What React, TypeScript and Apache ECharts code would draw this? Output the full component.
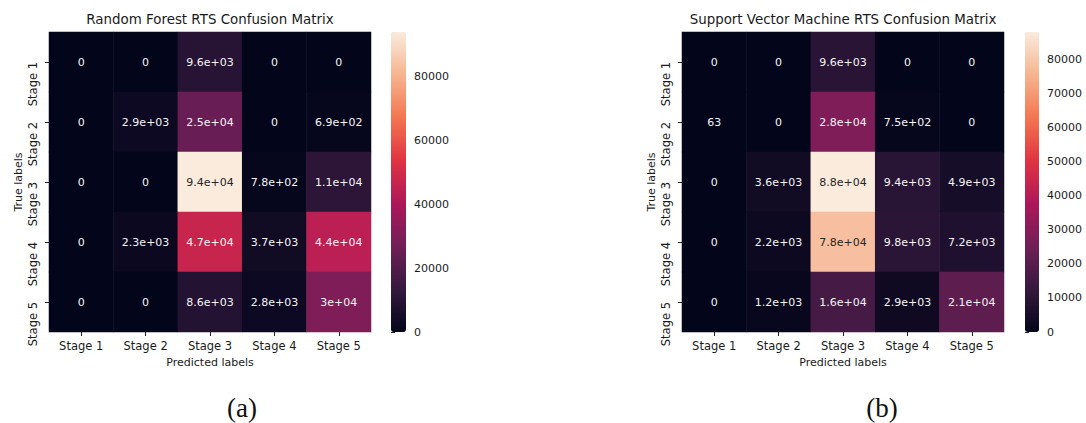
import React, { useEffect, useRef } from "react";
import * as echarts from "echarts";

// Class names shared by both confusion matrices
const stages = ["Stage 1", "Stage 2", "Stage 3", "Stage 4", "Stage 5"];

// Rows: true label, columns: predicted label
const rfMatrix = [
  [0, 0, 9600, 0, 0],
  [0, 2900, 25000, 0, 690],
  [0, 0, 94000, 780, 11000],
  [0, 2300, 47000, 3700, 44000],
  [0, 0, 8600, 2800, 30000],
];

const svmMatrix = [
  [0, 0, 9600, 0, 0],
  [63, 0, 28000, 750, 0],
  [0, 3600, 88000, 9400, 4900],
  [0, 2200, 78000, 9800, 7200],
  [0, 1200, 16000, 2900, 21000],
];

// Colour-bar tick values
const rfTicks = [0, 20000, 40000, 60000, 80000];
const svmTicks = [0, 10000, 20000, 30000, 40000, 50000, 60000, 70000, 80000];

// "rocket" colour map, sampled at even steps
const rocket = [
  "#03051a",
  "#35193e",
  "#701f57",
  "#ad1759",
  "#e13342",
  "#f37651",
  "#f6b48f",
  "#faebdd",
];

const FONT = "DejaVu Sans";
const TEXT = "#1a1a1a";

// Python-style "%.2g" formatting
function fmtG2(v: number): string {
  if (v === 0) return "0";
  const e = Math.floor(Math.log10(Math.abs(v)));
  if (e < -4 || e >= 2) {
    const s = v.toExponential(1);
    let [m, ex] = s.split("e");
    m = m.replace(/\.0$/, "");
    const sign = ex[0] === "-" ? "-" : "+";
    const digits = ex.replace(/^[+-]/, "").padStart(2, "0");
    return `${m}e${sign}${digits}`;
  }
  return String(Number(v.toPrecision(2)));
}

function cells(matrix: number[][]) {
  const max = Math.max(...matrix.flat());
  const out: any[] = [];
  matrix.forEach((row, r) =>
    row.forEach((v, c) => {
      out.push({
        value: [c, r, v],
        label: { color: v / max > 0.8 ? "#262626" : "#f4f4f4" },
      });
    })
  );
  return out;
}

function panel(
  idx: number,
  left: number,
  cbLeft: number,
  cbWidth: number,
  matrix: number[][],
  ticks: number[],
  seriesIndex: number
) {
  const max = Math.max(...matrix.flat());
  const grid = { left, top: 32, width: 322, height: 300 };
  const cbGrid = { left: cbLeft, top: 32, width: cbWidth, height: 300 };
  const tick = { show: true, alignWithLabel: true, length: 4, lineStyle: { color: "#222", width: 1 } };
  const xAxis = {
    type: "category",
    gridIndex: idx * 2,
    data: stages,
    axisLine: { show: false },
    axisTick: tick,
    axisLabel: { fontFamily: FONT, fontSize: 11.5, color: TEXT, margin: 8 },
    splitLine: { show: false },
    name: "Predicted labels",
    nameLocation: "middle",
    nameGap: 22,
    nameTextStyle: { fontFamily: FONT, fontSize: 11, color: TEXT },
  };
  const yAxis = {
    type: "category",
    gridIndex: idx * 2,
    data: stages,
    inverse: true,
    axisLine: { show: false },
    axisTick: tick,
    axisLabel: {
      fontFamily: FONT,
      fontSize: 11.5,
      color: TEXT,
      rotate: 90,
      margin: 10,
      align: "right",
      verticalAlign: "bottom",
    },
    splitLine: { show: false },
    name: "True labels",
    nameLocation: "middle",
    nameRotate: 90,
    nameGap: 25,
    nameTextStyle: { fontFamily: FONT, fontSize: 11, color: TEXT },
  };
  const cbX = {
    type: "value",
    gridIndex: idx * 2 + 1,
    show: false,
  };
  const cbY = {
    type: "value",
    gridIndex: idx * 2 + 1,
    position: "right",
    min: 0,
    max,
    axisLine: { show: false },
    axisTick: {
      show: true,
      length: 4,
      customValues: ticks,
      lineStyle: { color: "#222", width: 1 },
    },
    axisLabel: {
      customValues: ticks,
      formatter: (v: number) => String(v),
      fontFamily: FONT,
      fontSize: 11,
      color: TEXT,
      margin: 8,
    },
    splitLine: { show: false },
  };
  const visualMap = {
    type: "continuous",
    seriesIndex,
    min: 0,
    max,
    left: cbLeft,
    top: 32,
    itemWidth: cbWidth,
    itemHeight: 300,
    padding: 0,
    calculable: false,
    hoverLink: false,
    inRange: { color: rocket },
  };
  const series = {
    type: "heatmap",
    xAxisIndex: idx * 2,
    yAxisIndex: idx * 2,
    data: cells(matrix),
    label: {
      show: true,
      fontFamily: FONT,
      fontSize: 11,
      formatter: (p: any) => fmtG2(p.value[2]),
    },
    itemStyle: { borderWidth: 0 },
    emphasis: { disabled: true },
  };
  return { grid: [grid, cbGrid], xAxis: [xAxis, cbX], yAxis: [yAxis, cbY], visualMap, series };
}

export default function App() {
  const ref = useRef<HTMLDivElement>(null);

  useEffect(() => {
    document.body.style.margin = "0";
    if (!ref.current) return;
    const chart = echarts.init(ref.current, undefined, { renderer: "svg" });

    const a = panel(0, 49, 391, 15, rfMatrix, rfTicks, 0);
    const b = panel(1, 682, 1025, 14, svmMatrix, svmTicks, 1);

    const titleStyle = {
      fontFamily: FONT,
      fontSize: 13.4,
      fill: TEXT,
      textAlign: "center",
      textVerticalAlign: "middle",
    };
    const captionStyle = {
      fontFamily: "Liberation Serif",
      fontSize: 27,
      fill: "#111",
      textAlign: "center",
      textVerticalAlign: "middle",
    };

    chart.setOption({
      animation: false,
      backgroundColor: "#ffffff",
      grid: [...a.grid, ...b.grid],
      xAxis: [...a.xAxis, ...b.xAxis],
      yAxis: [...a.yAxis, ...b.yAxis],
      visualMap: [a.visualMap, b.visualMap],
      series: [a.series, b.series],
      graphic: [
        { type: "text", x: 210, y: 19.5, style: { ...titleStyle, text: "Random Forest RTS Confusion Matrix" } },
        { type: "text", x: 843, y: 19.5, style: { ...titleStyle, text: "Support Vector Machine RTS Confusion Matrix" } },
        { type: "text", x: 242, y: 408, style: { ...captionStyle, text: "(a)" } },
        { type: "text", x: 882, y: 408, style: { ...captionStyle, text: "(b)" } },
      ],
    });

    return () => chart.dispose();
  }, []);

  return <div ref={ref} style={{ width: 1086, height: 423 }} />;
}
